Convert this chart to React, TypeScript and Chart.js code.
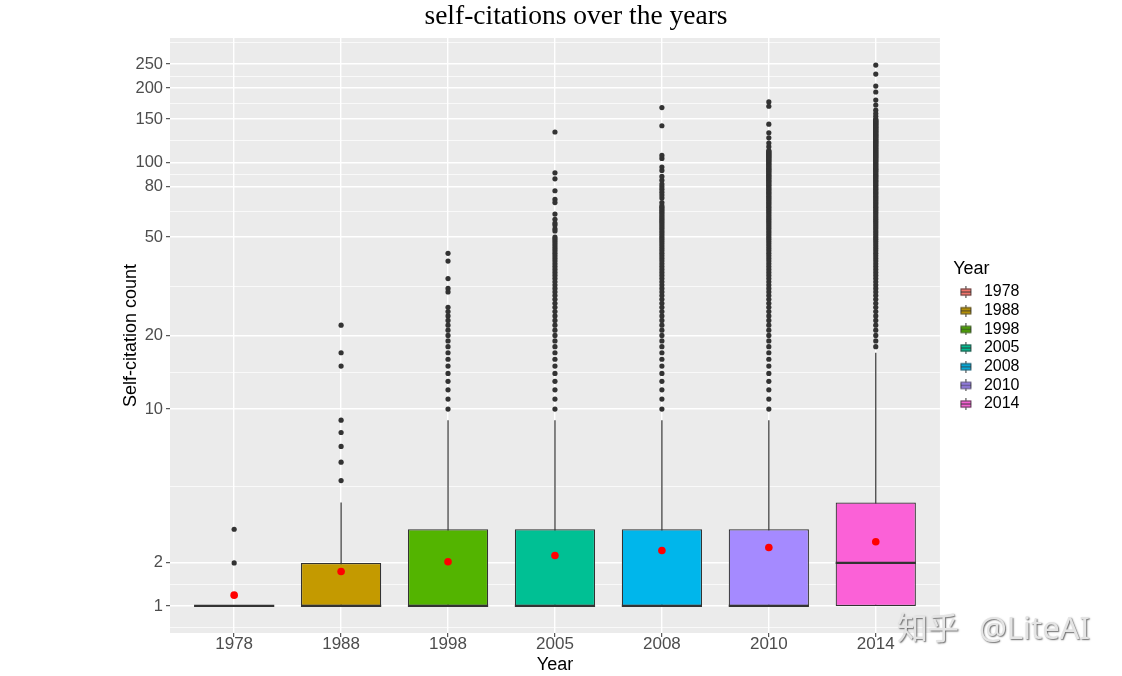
import React, { useEffect, useRef } from "react";
import { Chart, registerables } from "chart.js";

Chart.register(...registerables);

// ---------------- data ----------------
const years = ["1978", "1988", "1998", "2005", "2008", "2010", "2014"];
const boxColors = ["#F8766D", "#C49A00", "#53B400", "#00C094", "#00B6EB", "#A58AFF", "#FB61D7"];
const q1 = [1, 1, 1, 1, 1, 1, 1];
const median = [1, 1, 1, 1, 1, 1, 2];
const q3 = [1, 2, 3, 3, 3, 3, 4];
const whiskerLow = [1, 1, 1, 1, 1, 1, 1];
const whiskerHigh = [1, 4, 9, 9, 9, 9, 17];
const means = [1.23, 1.78, 2.03, 2.2, 2.34, 2.43, 2.6];
const yBreaks = [1, 2, 10, 20, 50, 80, 100, 150, 200, 250];

const outliers1978 = [2, 3];
const outliers1988 = [5, 6, 7, 8, 9, 15, 17, 22];
const outliers1998 = [
  10, 11, 12, 13, 14, 15, 16, 17, 18, 19, 20, 21, 22, 23, 24, 25, 26,
  30, 31, 34, 40, 43,
];
const outliers2005 = [
  10, 11, 12, 13, 14, 15, 16, 17, 18, 19, 20, 21, 22, 23, 24, 25, 26, 27, 28, 29,
  30, 31, 32, 33, 34, 35, 36, 37, 38, 39, 40, 41, 42, 43, 44, 45, 46, 47, 48, 49, 50,
  53, 54, 56, 57, 59, 62, 69, 71, 77, 86, 91, 133,
];
const outliers2008 = [
  10, 11, 12, 13, 14, 15, 16, 17, 18, 19, 20, 21, 22, 23, 24, 25, 26, 27, 28, 29,
  30, 31, 32, 33, 34, 35, 36, 37, 38, 39, 40, 41, 42, 43, 44, 45, 46, 47, 48, 49,
  50, 51, 52, 53, 54, 55, 56, 57, 58, 59, 60, 61, 62, 63, 64, 65, 66, 67,
  69, 72, 74, 76, 78, 80, 82, 85, 88, 93, 96, 104, 107, 141, 167,
];
const outliers2010 = [
  10, 11, 12, 13, 14, 15, 16, 17, 18, 19, 20, 21, 22, 23, 24, 25, 26, 27, 28, 29,
  30, 31, 32, 33, 34, 35, 36, 37, 38, 39, 40, 41, 42, 43, 44, 45, 46, 47, 48, 49,
  50, 51, 52, 53, 54, 55, 56, 57, 58, 59, 60, 61, 62, 63, 64, 65, 66, 67, 68, 69,
  70, 71, 72, 73, 74, 75, 76, 77, 78, 79, 80, 81, 82, 83, 84, 85, 86, 87, 88, 89,
  90, 91, 92, 93, 94, 95, 96, 97, 98, 99, 100, 101, 102, 103, 104, 105, 106, 107, 108, 109,
  110, 111, 112, 116, 120, 126, 132, 143, 169, 176,
];
const outliers2014 = [
  18, 19, 20, 21, 22, 23, 24, 25, 26, 27, 28, 29,
  30, 31, 32, 33, 34, 35, 36, 37, 38, 39, 40, 41, 42, 43, 44, 45, 46, 47, 48, 49,
  50, 51, 52, 53, 54, 55, 56, 57, 58, 59, 60, 61, 62, 63, 64, 65, 66, 67, 68, 69,
  70, 71, 72, 73, 74, 75, 76, 77, 78, 79, 80, 81, 82, 83, 84, 85, 86, 87, 88, 89,
  90, 91, 92, 93, 94, 95, 96, 97, 98, 99, 100, 101, 102, 103, 104, 105, 106, 107, 108, 109,
  110, 111, 112, 113, 114, 115, 116, 117, 118, 119, 120, 121, 122, 123, 124, 125, 126, 127, 128, 129,
  130, 131, 132, 133, 134, 135, 136, 137, 138, 139, 140, 141, 142, 143, 144, 145, 146, 147, 148, 149, 150,
  154, 158, 163, 171, 179, 193, 204, 228, 248,
];
const outlierLists = [outliers1978, outliers1988, outliers1998, outliers2005, outliers2008, outliers2010, outliers2014];

// pseudo-log transform used by the y axis (asinh(y/2))
const tr = (v: number) => Math.asinh(v / 2);

const SANS = "'Liberation Sans', Arial, sans-serif";
const SERIF = "'Liberation Serif', 'Times New Roman', serif";

function makeGlyph(color: string): HTMLCanvasElement {
  const c = document.createElement("canvas");
  c.width = 13;
  c.height = 12;
  const g = c.getContext("2d")!;
  g.strokeStyle = "#333333";
  g.lineWidth = 1;
  g.beginPath();
  g.moveTo(6.5, 0);
  g.lineTo(6.5, 12);
  g.stroke();
  g.fillStyle = color;
  g.fillRect(1, 2.5, 11, 7);
  g.strokeStyle = "rgba(51,51,51,0.85)";
  g.strokeRect(1.5, 3, 10, 6);
  g.strokeStyle = "#333333";
  g.beginPath();
  g.moveTo(1, 6);
  g.lineTo(12, 6);
  g.stroke();
  return c;
}

export default function App() {
  const ref = useRef<HTMLCanvasElement>(null);

  useEffect(() => {
    document.body.style.margin = "0";
    const canvas = ref.current!;

    const allVals = [...whiskerLow, ...whiskerHigh, ...outlierLists.flat()];
    const dMin = tr(Math.min(...allVals));
    const dMax = tr(Math.max(...allVals));
    const span = dMax - dMin;
    const yMin = dMin - 0.05 * span;
    const yMax = dMax + 0.05 * span;

    const majorT = yBreaks.map(tr);
    const bd = majorT[1] - majorT[0];
    const minorT = [
      majorT[0] - bd / 2,
      ...majorT.slice(1).map((t, i) => (t + majorT[i]) / 2),
      majorT[majorT.length - 1] + bd / 2,
    ];
    const yTicks = [
      ...majorT.map((v, i) => ({ value: v, isMajor: true, lab: String(yBreaks[i]) })),
      ...minorT.map((v) => ({ value: v, isMajor: false, lab: "" })),
    ].sort((a, b) => a.value - b.value);

    const glyphs = boxColors.map(makeGlyph);

    const whiskerPts: any[] = [];
    years.forEach((_, i) => {
      whiskerPts.push({ x: i, y: tr(whiskerLow[i]) });
      whiskerPts.push({ x: i, y: tr(whiskerHigh[i]) });
      whiskerPts.push({ x: i, y: null });
    });
    const outlierPts = outlierLists.flatMap((arr, i) => arr.map((v) => ({ x: i, y: tr(v) })));

    const halfBox = (c: any) => {
      const s = c.chart.scales.x;
      return Math.abs(s.getPixelForValue(0.375) - s.getPixelForValue(0));
    };

    const bgPlugin = {
      id: "bg",
      beforeDraw(chart: any) {
        const { ctx, chartArea: a } = chart;
        ctx.save();
        ctx.fillStyle = "#FFFFFF";
        ctx.fillRect(0, 0, chart.width, chart.height);
        ctx.fillStyle = "#EBEBEB";
        ctx.fillRect(a.left, a.top, a.right - a.left, a.bottom - a.top);
        ctx.restore();
      },
    };

    const watermark = {
      id: "watermark",
      afterDraw(chart: any) {
        const ctx = chart.ctx;
        ctx.save();
        ctx.shadowColor = "rgba(90,90,90,0.9)";
        ctx.shadowOffsetX = 1;
        ctx.shadowOffsetY = 1;
        ctx.shadowBlur = 1.5;
        ctx.fillStyle = "#E4E4E4";
        ctx.textBaseline = "alphabetic";
        ctx.font = "31px 'Noto Sans CJK SC'";
        ctx.fillText("知乎", 897, 639);
        ctx.font = "31px 'Noto Sans', 'Liberation Sans', sans-serif";
        ctx.fillText("@LiteAI", 979, 639);
        ctx.restore();
      },
    };

    const chart = new Chart(canvas, {
      type: "scatter",
      data: {
        datasets: [
          {
            type: "scatter",
            label: "mean",
            data: means.map((m, i) => ({ x: i, y: tr(m) })),
            pointRadius: 3.8,
            pointBackgroundColor: "#FF0000",
            pointBorderWidth: 0,
            order: 0,
          } as any,
          {
            type: "scatter",
            label: "outliers",
            data: outlierPts,
            pointRadius: 2.6,
            pointBackgroundColor: "#333333",
            pointBorderWidth: 0,
            order: 1,
          },
          {
            type: "scatter",
            label: "median",
            data: median.map((m, i) => ({ x: i, y: tr(m) })),
            pointStyle: "line",
            pointRadius: halfBox,
            pointBorderColor: "#333333",
            pointBorderWidth: 2.2,
            order: 2,
          },
          {
            type: "bar",
            label: "box",
            data: years.map((_, i) => ({ x: i, y: [tr(q1[i]), tr(q3[i])] })),
            backgroundColor: boxColors,
            borderColor: "#333333",
            borderWidth: 1.2,
            borderSkipped: false,
            barPercentage: 0.75,
            categoryPercentage: 1,
            order: 3,
          },
          {
            type: "line",
            label: "whisker",
            data: whiskerPts,
            borderColor: "#333333",
            borderWidth: 1.2,
            pointRadius: 0,
            fill: false,
            spanGaps: false,
            order: 4,
          },
        ] as any,
      },
      options: {
        responsive: false,
        animation: false,
        events: [],
        layout: { padding: { left: 30, top: 0, right: 0, bottom: 1.5 } },
        scales: {
          x: {
            type: "linear",
            position: "bottom",
            min: -0.6,
            max: years.length - 1 + 0.6,
            offset: false,
            bounds: "data",
            afterBuildTicks: (s: any) => {
              s.ticks = years.map((_, i) => ({ value: i }));
            },
            afterFit: (s: any) => {
              s.height = 41.5;
            },
            grid: {
              offset: false,
              color: "#FFFFFF",
              lineWidth: 1.4,
              tickColor: "#333333",
              tickLength: 4,
              tickWidth: 1,
            },
            border: { display: false },
            ticks: {
              autoSkip: false,
              maxRotation: 0,
              padding: -1.2,
              color: "#4D4D4D",
              font: { family: SANS, size: 17, lineHeight: 1 },
              callback: (_v: any, i: number) => years[i],
            },
            title: {
              display: true,
              text: "Year",
              color: "#000000",
              font: { family: SANS, size: 18, lineHeight: 1 },
              padding: { top: 0, bottom: 0.2 },
            },
          },
          y: {
            type: "linear",
            position: "left",
            min: yMin,
            max: yMax,
            beginAtZero: false,
            bounds: "data",
            afterBuildTicks: (s: any) => {
              s.ticks = yTicks.map((t) => ({ value: t.value }));
            },
            afterFit: (s: any) => {
              s.width = 140;
            },
            grid: {
              color: "#FFFFFF",
              lineWidth: (c: any) => (yTicks[c.index] && yTicks[c.index].isMajor ? 1.4 : 0.7),
              tickColor: (c: any) =>
                yTicks[c.index] && yTicks[c.index].isMajor ? "#333333" : "rgba(0,0,0,0)",
              tickLength: 4,
              tickWidth: 1,
            },
            border: { display: false },
            ticks: {
              autoSkip: false,
              padding: 3,
              color: "#4D4D4D",
              font: { family: SANS, size: 16.5, lineHeight: 1 },
              callback: (_v: any, i: number) => (yTicks[i] ? yTicks[i].lab : ""),
            },
            title: {
              display: true,
              text: "Self-citation count",
              color: "#000000",
              font: { family: SANS, size: 18, lineHeight: 1 },
              padding: { top: 92.5, bottom: 0 },
            },
          },
          gap: {
            type: "linear",
            position: "right",
            display: true,
            weight: 0,
            afterFit: (s: any) => {
              s.width = 13.3;
            },
            grid: { display: false, drawTicks: false },
            border: { display: false },
            ticks: { display: false },
          },
          outer: {
            type: "linear",
            position: "right",
            display: true,
            weight: 2000,
            afterFit: (s: any) => {
              s.width = 92.5;
            },
            grid: { display: false, drawTicks: false },
            border: { display: false },
            ticks: { display: false },
          },
        } as any,
        plugins: {
          title: {
            display: true,
            text: "self-citations over the years",
            color: "#000000",
            font: { family: SERIF, size: 27.5, weight: "normal", lineHeight: 1 },
            padding: { top: 3.5, bottom: 7 },
          },
          legend: {
            display: true,
            position: "right",
            align: "center",
            onClick: () => {},
            title: {
              display: true,
              text: "Year",
              color: "#000000",
              position: "start",
              font: { family: SANS, size: 18 },
              padding: 0,
            },
            labels: {
              usePointStyle: true,
              pointStyleWidth: 20,
              padding: 2.67,
              color: "#000000",
              font: { family: SANS, size: 16 },
              generateLabels: () =>
                years.map((y, i) => ({
                  text: y,
                  pointStyle: glyphs[i],
                  fillStyle: boxColors[i],
                  strokeStyle: "#333333",
                  lineWidth: 0,
                  hidden: false,
                  datasetIndex: 3,
                  fontColor: "#000000",
                })) as any,
            },
          },
          tooltip: { enabled: false },
        },
      } as any,
      plugins: [bgPlugin, watermark],
    });

    return () => chart.destroy();
  }, []);

  return (
    <div style={{ width: 1122, height: 676 }}>
      <canvas ref={ref} width={1122} height={676} style={{ display: "block" }} />
    </div>
  );
}
